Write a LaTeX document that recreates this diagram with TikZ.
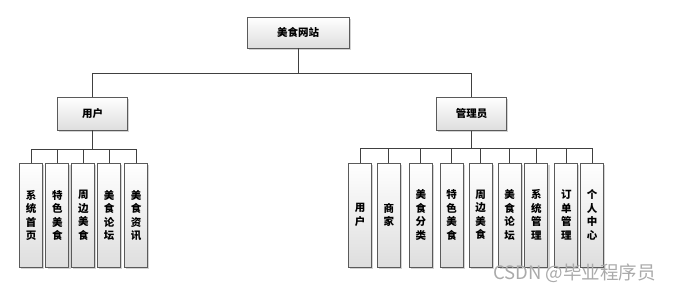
\documentclass[tikz,border=0pt]{standalone}
\usepackage{fontspec}
\usepackage{tikz}
\usetikzlibrary{positioning,shadows}
\newfontfamily\cjk{Noto Sans CJK SC}
\definecolor{edgegray}{RGB}{64,64,64}
\definecolor{boxgray}{RGB}{90,90,90}
\definecolor{markgray}{RGB}{170,170,170}
\tikzset{
  modbox/.style={draw=boxgray, line width=0.9pt, top color=white, bottom color=black!13,
    drop shadow={shadow xshift=1.6pt, shadow yshift=-1.6pt, opacity=.35},
    align=center, inner sep=0pt, font=\cjk\bfseries\fontsize{10.5}{13.5}\selectfont},
  topbox/.style={modbox, minimum width=102pt, minimum height=31pt},
  rolebox/.style={modbox, minimum width=70pt, minimum height=33pt},
  leafbox/.style={modbox, minimum width=23pt, minimum height=104pt},
  link/.style={draw=edgegray, line width=1pt}
}
\begin{document}
\begin{tikzpicture}[x=1pt, y=-1pt, node distance=2pt]
\useasboundingbox (0,0) rectangle (678,293);

% levels
\node[topbox] (root) at (298,32.5) {美食网站};
\node[rolebox] (user) at (92.5,113.5) {用户};
\node[rolebox] (admin) at (471.5,114) {管理员};

% user modules
\node[leafbox] (u1) at (31,215.5) {系\\统\\首\\页};
\node[leafbox, right=2.5pt of u1] (u2) {特\\色\\美\\食};
\node[leafbox, right=2pt of u2] (u3) {周\\边\\美\\食};
\node[leafbox, right=2pt of u3] (u4) {美\\食\\论\\坛};
\node[leafbox, right=3pt of u4] (u5) {美\\食\\资\\讯};

% admin modules
\node[leafbox] (a1) at (360,215) {用\\户};
\node[leafbox, right=5pt of a1] (a2) {商\\家};
\node[leafbox, right=8pt of a2] (a3) {美\\食\\分\\类};
\node[leafbox, right=7pt of a3] (a4) {特\\色\\美\\食};
\node[leafbox, right=5pt of a4] (a5) {周\\边\\美\\食};
\node[leafbox, right=5pt of a5] (a6) {美\\食\\论\\坛};
\node[leafbox, right=3pt of a6] (a7) {系\\统\\管\\理};
\node[leafbox, right=6pt of a7] (a8) {订\\单\\管\\理};
\node[leafbox, right=2pt of a8] (a9) {个\\人\\中\\心};

% buses
\coordinate (rbus) at (0,73);
\coordinate (ubus) at (0,149);
\coordinate (abus) at (0,148);

\draw[link] (root.south) -- (root.south |- rbus);
\draw[link] (user.north) -- (user.north |- rbus) -| (admin.north);

\draw[link] (user.south) -- (user.south |- ubus);
\draw[link] (u1.north) -- (u1.north |- ubus) -| (u5.north);
\foreach \i in {2,3,4}
  \draw[link] (u\i.north) -- (u\i.north |- ubus);

\draw[link] (admin.south) -- (admin.south |- abus);
\draw[link] (a1.north) -- (a1.north |- abus) -| (a9.north);
\foreach \i in {2,...,8}
  \draw[link] (a\i.north) -- (a\i.north |- abus);

% watermark
\node[text=markgray, font=\cjk\fontsize{18.5}{20}\selectfont, anchor=west, inner sep=0pt] (mark) at (493,273) {CSDN @毕业程序员};
\end{tikzpicture}
\end{document}
